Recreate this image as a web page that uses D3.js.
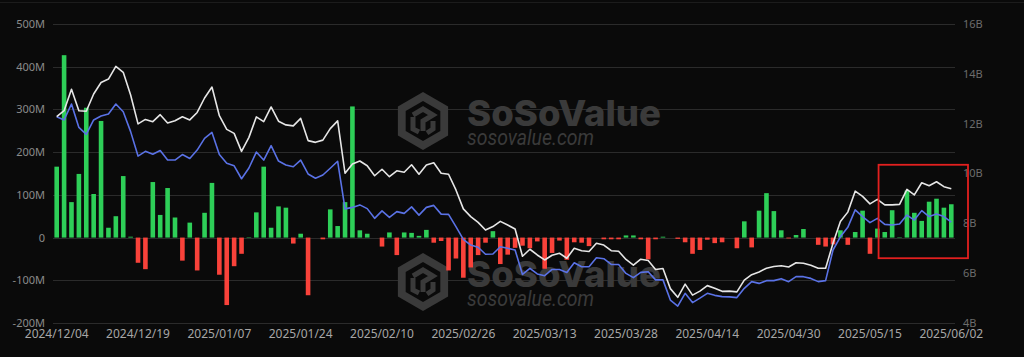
<!DOCTYPE html>
<html>
<head>
<meta charset="utf-8">
<script src="https://cdn.jsdelivr.net/npm/d3@7/dist/d3.min.js"></script>
<style>
  html, body { margin: 0; padding: 0; background: #0a0a0a; }
  svg { display: block; }
</style>
</head>
<body>
<svg id="chart" width="1024" height="357"></svg>
<script>
// ---------- DATA ----------
const categories = [
  "2024/12/04","2024/12/05","2024/12/06","2024/12/09","2024/12/10","2024/12/11","2024/12/12","2024/12/13",
  "2024/12/16","2024/12/17","2024/12/18","2024/12/19","2024/12/20","2024/12/23","2024/12/24","2024/12/26",
  "2024/12/27","2024/12/30","2024/12/31",
  "2025/01/02","2025/01/03","2025/01/06","2025/01/07","2025/01/08","2025/01/10","2025/01/13","2025/01/14",
  "2025/01/15","2025/01/16","2025/01/17","2025/01/21","2025/01/22","2025/01/23","2025/01/24","2025/01/27",
  "2025/01/28","2025/01/29","2025/01/30","2025/01/31",
  "2025/02/03","2025/02/04","2025/02/05","2025/02/06","2025/02/07","2025/02/10","2025/02/11","2025/02/12",
  "2025/02/13","2025/02/14","2025/02/18","2025/02/19","2025/02/20","2025/02/21","2025/02/24","2025/02/25",
  "2025/02/26","2025/02/27","2025/02/28",
  "2025/03/03","2025/03/04","2025/03/05","2025/03/06","2025/03/07","2025/03/10","2025/03/11","2025/03/12",
  "2025/03/13","2025/03/14","2025/03/17","2025/03/18","2025/03/19","2025/03/20","2025/03/21","2025/03/24",
  "2025/03/25","2025/03/26","2025/03/27","2025/03/28","2025/03/31",
  "2025/04/01","2025/04/02","2025/04/03","2025/04/04","2025/04/07","2025/04/08","2025/04/09","2025/04/10",
  "2025/04/11","2025/04/14","2025/04/15","2025/04/16","2025/04/17","2025/04/21","2025/04/22","2025/04/23",
  "2025/04/24","2025/04/25","2025/04/28","2025/04/29","2025/04/30",
  "2025/05/01","2025/05/02","2025/05/05","2025/05/06","2025/05/07","2025/05/08","2025/05/09","2025/05/12",
  "2025/05/13","2025/05/14","2025/05/15","2025/05/16","2025/05/19","2025/05/20","2025/05/21","2025/05/22",
  "2025/05/23","2025/05/27","2025/05/28","2025/05/29","2025/05/30",
  "2025/06/02"
];

// daily net inflow, millions USD (bars, left axis)
const netInflow = [
  166, 427, 83, 149, 304, 102, 273, 23, 50, 144, 2, -59, -74, 130, 53, 116,
  47, -54, 35,
  -77, 58, 128, -87, -158, -67, -38, 1, 59, 166, 23, 73, 70, -14, 9, -135,
  0, -4, 66, 27,
  83, 307, 17, 9, 0, -21, 12, -41, 12, 11, 4, 18, -12, -8, -77, -49,
  -94, -70, -41,
  -12, 15, -62, -40, -24, -19, -25, -9, -73, -36, -7, -52, -11, -12, -20, 0,
  -4, -4, -4, 5, 5,
  -4, -51, -4, 2, 0, -3, -11, -38, -29, -5, -13, -11, 0, -25, 38, -23,
  63, 104, 62, 17, -2,
  6, 20, 0, -17, -21, -16, 17, -17, 13, 63, -38, 21, 13, 64, 1, 110,
  58, 39, 84, 91, 70,
  78
];

// total net assets, billions USD (white line, right axis)
const totalNetAssets = [
  12.28, 12.52, 13.38, 12.52, 12.50, 13.19, 13.65, 13.79, 14.30, 14.06, 13.15, 11.99, 12.17, 12.08, 12.36, 12.03,
  12.12, 12.28, 12.15,
  12.45, 13.03, 13.47, 12.32, 11.77, 11.61, 10.89, 11.45, 12.27, 12.08, 12.67, 12.10, 11.95, 11.91, 12.21, 11.32,
  11.25, 11.34, 11.80, 12.11,
  10.01, 10.38, 10.50, 10.31, 9.91, 10.17, 9.87, 10.11, 10.05, 10.35, 9.97, 10.34, 10.43, 10.01, 9.97, 9.34,
  8.58, 8.27, 8.04,
  7.73, 7.87, 8.08, 7.93, 7.77, 6.68, 6.96, 6.73, 6.53, 6.72, 6.80, 6.60, 7.00, 6.90, 6.87, 7.20,
  7.13, 6.90, 6.88, 6.55, 6.32,
  6.56, 6.51, 6.15, 6.19, 5.38, 5.03, 5.56, 5.12, 5.28, 5.50, 5.39, 5.27, 5.28, 5.25, 5.72, 5.94,
  6.05, 6.20, 6.27, 6.30, 6.25,
  6.42, 6.40, 6.32, 6.20, 6.20, 7.20, 8.07, 8.45, 9.29, 9.08, 8.78, 8.96, 8.74, 8.74, 8.76, 9.36,
  9.14, 9.63, 9.51, 9.67, 9.47,
  9.39
];

// second series (blue line, right axis)
const blueSeries = [
  12.28, 12.15, 12.79, 11.85, 11.57, 12.15, 12.31, 12.39, 12.79, 12.48, 11.68, 10.70, 10.89, 10.77, 10.92, 10.54,
  10.54, 10.76, 10.60,
  10.94, 11.41, 11.65, 10.76, 10.41, 10.31, 9.79, 10.22, 10.86, 10.54, 11.12, 10.50, 10.34, 10.27, 10.54, 9.98,
  9.81, 9.94, 10.21, 10.49,
  8.58, 8.64, 8.74, 8.59, 8.20, 8.50, 8.24, 8.47, 8.40, 8.66, 8.33, 8.64, 8.72, 8.37, 8.36, 7.87,
  7.36, 7.13, 7.04,
  6.76, 6.77, 7.06, 7.00, 6.93, 5.95, 6.19, 5.97, 5.90, 6.15, 6.15, 6.03, 6.42, 6.26, 6.26, 6.62,
  6.58, 6.35, 6.35, 5.99, 5.82,
  6.03, 6.06, 5.73, 5.73, 4.92, 4.68, 5.19, 4.82, 5.00, 5.19, 5.11, 5.06, 5.05, 5.02, 5.39, 5.66,
  5.59, 5.70, 5.70, 5.78, 5.66,
  5.86, 5.86, 5.79, 5.66, 5.70, 6.93, 7.46, 7.84, 8.54, 8.27, 8.03, 8.20, 7.96, 7.93, 7.97, 8.33,
  8.13, 8.51, 8.27, 8.37, 8.27,
  8.05
];

const xTickLabels = ["2024/12/04","2024/12/19","2025/01/07","2025/01/24","2025/02/10","2025/02/26",
  "2025/03/13","2025/03/28","2025/04/14","2025/04/30","2025/05/15","2025/06/02"];
const leftTicks = [-200, -100, 0, 100, 200, 300, 400, 500];
const rightTicks = [4, 6, 8, 10, 12, 14, 16];
const highlightRange = ["2025/05/19", "2025/06/02"];

// ---------- DRAW ----------
const svg = d3.select("#chart");
const W = 1024, H = 357;
const plot = { left: 53, right: 955, top: 24, bottom: 323 };

svg.append("rect").attr("width", W).attr("height", H).attr("fill", "#0a0a0a");
svg.append("line").attr("x1", 0).attr("x2", W).attr("y1", 2.5).attr("y2", 2.5)
  .attr("stroke", "#1c1c1c").attr("stroke-width", 1);

const x = d3.scaleBand().domain(categories).range([plot.left, plot.right]).padding(0);
const yL = d3.scaleLinear().domain([-200, 500]).range([plot.bottom, plot.top]);
const yR = d3.scaleLinear().domain([4, 16]).range([plot.bottom, plot.top]);
const cx = d => x(d) + x.bandwidth() / 2;

// grid
svg.append("g").selectAll("line").data(leftTicks).join("line")
  .attr("x1", plot.left).attr("x2", plot.right)
  .attr("y1", d => Math.round(yL(d)) + 0.5).attr("y2", d => Math.round(yL(d)) + 0.5)
  .attr("stroke", "#2b2b2b").attr("stroke-width", 1);

// watermark
function watermark(g, ox, oy) {
  const hx = ox, hy = oy, r = 29;
  const hex = d3.range(6).map(k => {
    const a = Math.PI / 180 * (60 * k - 90);
    return [hx + r * Math.cos(a), hy + r * Math.sin(a)];
  });
  g.append("polygon").attr("points", hex.map(p => p.join(",")).join(" ")).attr("fill", "#3a3a3a");
  const r2 = 20;
  const hex2 = d3.range(6).map(k => {
    const a = Math.PI / 180 * (60 * k - 90);
    return [hx + r2 * Math.cos(a), hy + r2 * Math.sin(a)];
  });
  g.append("polygon").attr("points", hex2.map(p => p.join(",")).join(" ")).attr("fill", "#0a0a0a");
  const s = (dx, dy) => [hx + dx, hy + dy];
  const path = d3.line();
  g.append("path").attr("d", path([s(-10, -6), s(0, -12), s(10, -6), s(0, 0), s(0, 10)]))
    .attr("fill", "none").attr("stroke", "#3a3a3a").attr("stroke-width", 5).attr("stroke-linejoin", "miter");
  g.append("path").attr("d", path([s(-10, -4), s(-10, 8), s(-4, 11)]))
    .attr("fill", "none").attr("stroke", "#3a3a3a").attr("stroke-width", 5);
  g.append("path").attr("d", path([s(10, 0), s(10, 8), s(4, 12)]))
    .attr("fill", "none").attr("stroke", "#3a3a3a").attr("stroke-width", 5);
  g.append("text").attr("x", ox + 44).attr("y", oy + 4.5)
    .attr("font-family", "Inter, Roboto, sans-serif").attr("font-weight", 800)
    .attr("font-size", 36).attr("fill", "#3a3a3a")
    .attr("textLength", 194).attr("lengthAdjust", "spacingAndGlyphs").text("SoSoValue");
  g.append("text").attr("x", ox + 44).attr("y", oy + 24)
    .attr("font-family", "Roboto, 'Open Sans', sans-serif").attr("font-style", "italic")
    .attr("font-size", 22).attr("fill", "#3a3a3a")
    .attr("textLength", 127).attr("lengthAdjust", "spacingAndGlyphs").text("sosovalue.com");
}
const wm = svg.append("g");
watermark(wm, 423, 121);
watermark(wm, 423, 282);

// bars
const bw = 4.6;
svg.append("g").selectAll("rect").data(categories.map((c, i) => ({ c, v: netInflow[i] })))
  .join("rect")
  .attr("x", d => cx(d.c) - bw / 2)
  .attr("width", bw)
  .attr("y", d => d.v >= 0 ? yL(d.v) : yL(0))
  .attr("height", d => Math.abs(yL(d.v) - yL(0)))
  .attr("fill", d => d.v >= 0 ? "#2ecf58" : "#f9423a");

// lines
const lineGen = arr => d3.line().x((d, i) => cx(categories[i])).y(d => yR(d))(arr);
svg.append("path").attr("d", lineGen(blueSeries)).attr("fill", "none")
  .attr("stroke", "#5a72e6").attr("stroke-width", 1.6).attr("stroke-linejoin", "round");
svg.append("path").attr("d", lineGen(totalNetAssets)).attr("fill", "none")
  .attr("stroke", "#e6e6e6").attr("stroke-width", 1.6).attr("stroke-linejoin", "round");

// left axis labels
svg.append("g").selectAll("text").data(leftTicks).join("text")
  .attr("x", 45).attr("y", d => yL(d)).attr("dy", "0.36em")
  .attr("text-anchor", "end").attr("font-family", "'Noto Sans', sans-serif")
  .attr("font-size", 11).attr("fill", "#8a8a8a")
  .text(d => d === 0 ? "0" : d + "M");

// right axis labels
svg.append("g").selectAll("text").data(rightTicks).join("text")
  .attr("x", 963).attr("y", d => yR(d)).attr("dy", "0.36em")
  .attr("text-anchor", "start").attr("font-family", "'Noto Sans', sans-serif")
  .attr("font-size", 11).attr("fill", "#6c6c6c")
  .text(d => d + "B");

// x labels
svg.append("g").selectAll("text").data(xTickLabels).join("text")
  .attr("x", d => cx(d)).attr("y", 338)
  .attr("text-anchor", "middle").attr("font-family", "'Noto Sans', sans-serif")
  .attr("font-size", 12).attr("fill", "#a6a6a6")
  .text(d => d);

// highlight rectangle
const hx0 = x(highlightRange[0]) - 2.5;
const hx1 = 968;
svg.append("rect").attr("x", hx0).attr("y", yR(10.35)).attr("width", hx1 - hx0)
  .attr("height", yR(6.6) - yR(10.35))
  .attr("fill", "none").attr("stroke", "#e3201f").attr("stroke-width", 1.8);
</script>
</body>
</html>
